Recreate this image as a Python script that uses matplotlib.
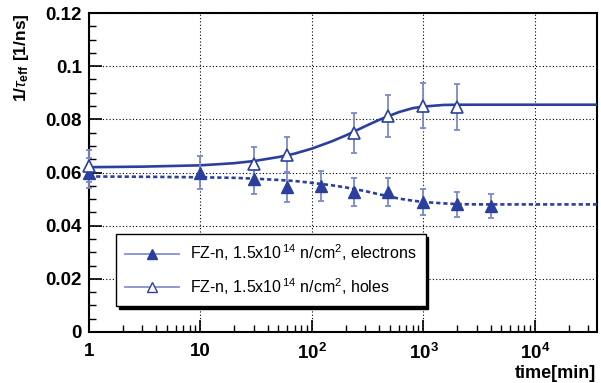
import matplotlib
matplotlib.use("Agg")
import matplotlib.pyplot as plt
import numpy as np
from matplotlib.ticker import FixedLocator, LogLocator, NullFormatter, MultipleLocator
from matplotlib.lines import Line2D

plt.rcParams['font.family'] = ['Liberation Sans', 'DejaVu Sans']
plt.rcParams['mathtext.fontset'] = 'custom'
plt.rcParams['mathtext.rm'] = 'Liberation Sans'
plt.rcParams['mathtext.bf'] = 'Liberation Sans:bold'
plt.rcParams['mathtext.it'] = 'Liberation Sans:italic'

# ---- data ----
t_el = [1, 10, 30, 60, 120, 240, 480, 1000, 2000, 4000]
y_el = [0.0597, 0.0600, 0.0575, 0.0545, 0.0549, 0.0526, 0.0526, 0.0489, 0.0481, 0.0474]
e_el = [0.0056, 0.0062, 0.0056, 0.0056, 0.0055, 0.0053, 0.0053, 0.0049, 0.0047, 0.0045]

t_ho = [1, 30, 60, 240, 480, 1000, 2000]
y_ho = [0.0624, 0.0632, 0.0665, 0.0750, 0.0812, 0.0852, 0.0846]
e_ho = [0.0060, 0.0064, 0.0068, 0.0075, 0.0080, 0.0085, 0.0086]

# fit curves
t_fit = [1, 3, 10, 20, 30, 50, 70, 100, 150, 200, 300, 400, 600, 800, 1000, 1500, 2000, 3000, 36000]
fit_ho = [0.0620, 0.0622, 0.0627, 0.0635, 0.0643, 0.0658, 0.0671, 0.0690, 0.0717, 0.0739,
          0.0774, 0.0798, 0.0827, 0.0842, 0.0848, 0.0854, 0.0855, 0.0855, 0.0855]
fit_el = [0.0585, 0.0584, 0.0582, 0.0580, 0.0577, 0.0572, 0.0568, 0.0561, 0.0552, 0.0544,
          0.0530, 0.0518, 0.0502, 0.0494, 0.0489, 0.0484, 0.0481, 0.0480, 0.0480]

x_ticks = [1, 10, 100, 1000, 10000]
x_ticklabels = ['1', '10', r'10$^{\mathbf{2}}$', r'10$^{\mathbf{3}}$', r'10$^{\mathbf{4}}$']
y_ticks = [0, 0.02, 0.04, 0.06, 0.08, 0.1, 0.12]
y_ticklabels = ['0', '0.02', '0.04', '0.06', '0.08', '0.1', '0.12']

label_el = r"FZ-n, 1.5x10$^{\,14}$ n/cm$^{2}$, electrons"
label_ho = r"FZ-n, 1.5x10$^{\,14}$ n/cm$^{2}$, holes"

col = '#2b3f9e'
ecol = '#7b89c8'
lcol = '#8592cc'

fig = plt.figure(figsize=(6.01, 3.83), dpi=100)
ax = fig.add_axes([89/601, 1-332/383, (597-89)/601, (332-13)/383])

ax.plot(t_fit, fit_ho, '-', color=col, lw=1.9, zorder=3)
ax.plot(t_fit, fit_el, '-', color=col, lw=1.9, dashes=(1.6, 1.1), zorder=3)

ax.errorbar(t_el, y_el, yerr=e_el, fmt='none', ecolor=ecol, elinewidth=1.3, capsize=2, capthick=1.3, zorder=4, clip_on=False)
ax.errorbar(t_ho, y_ho, yerr=e_ho, fmt='none', ecolor=ecol, elinewidth=1.3, capsize=2, capthick=1.3, zorder=4, clip_on=False)
ax.plot(t_el, y_el, '^', color=col, ms=8.5, ls='none', zorder=5, clip_on=False)
ax.plot(t_ho, y_ho, '^', mfc='white', mec=col, mew=1.2, ms=8.5, ls='none', zorder=5, clip_on=False)

ax.set_xscale('log')
ax.set_xlim(1, 36000)
ax.set_ylim(0, 0.12)

ax.xaxis.set_major_locator(FixedLocator(x_ticks))
ax.xaxis.set_minor_locator(LogLocator(base=10, subs=np.arange(2, 10), numticks=20))
ax.xaxis.set_minor_formatter(NullFormatter())
ax.set_xticklabels(x_ticklabels, fontweight='bold', fontsize=13.5)
ax.set_yticks(y_ticks)
ax.yaxis.set_minor_locator(MultipleLocator(0.005))
ax.set_yticklabels(y_ticklabels, fontweight='bold', fontsize=13.5)

ax.tick_params(which='major', direction='in', length=9, width=1.2, top=False, right=False, pad=5)
ax.tick_params(which='minor', direction='in', length=5, width=1.0, top=False, right=False)
ax.tick_params(axis='x', which='major', pad=8)

ax.grid(True, which='major', color='black', ls=(0, (1, 2)), lw=0.8)
for s in ax.spines.values():
    s.set_linewidth(1.5)

ax.set_ylabel(r"1/$\tau_{\mathbf{eff}}$ [1/ns]", fontweight='bold', fontsize=12.5)
ax.yaxis.set_label_coords(-0.115, 1.0)
ax.yaxis.label.set_ha('right')

fig.text(596/601, 1-378/383, 'time[min]', ha='right', va='baseline', fontweight='bold', fontsize=13)

h_el = Line2D([], [], color=lcol, lw=1.3, marker='^', mfc=col, mec=col, ms=7)
h_ho = Line2D([], [], color=lcol, lw=1.3, marker='^', mfc='white', mec=col, ms=7)
leg = fig.legend([h_el, h_ho], [label_el, label_ho], loc='upper left',
                 bbox_to_anchor=(116/601, 1-234/383), bbox_transform=fig.transFigure,
                 borderaxespad=0,
                 fancybox=False, framealpha=1, edgecolor='black', fontsize=11.5,
                 handlelength=3.4, borderpad=0.55, labelspacing=0.8, handletextpad=0.7,
                 shadow={'color': 'black', 'alpha': 1.0})
leg.get_frame().set_linewidth(1.0)

fig.savefig('out.png', dpi=100)
